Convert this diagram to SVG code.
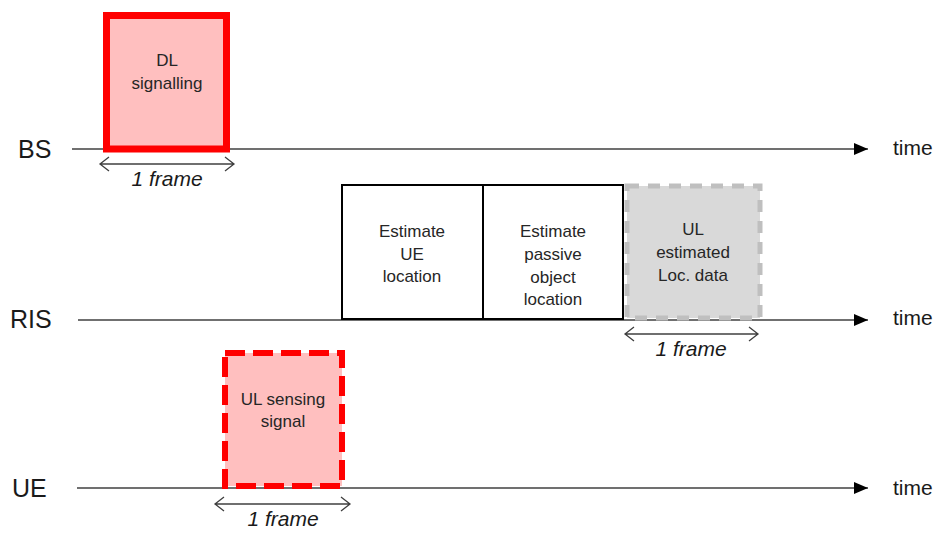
<svg xmlns="http://www.w3.org/2000/svg" width="949" height="534" viewBox="0 0 949 534">
<style>
.lbl{font-family:"Liberation Sans",Arial,sans-serif;font-size:25px;fill:#1a1a1a}
.time{font-family:"Liberation Sans",Arial,sans-serif;font-size:21px;fill:#1a1a1a}
.bx{font-family:"Liberation Sans",Arial,sans-serif;font-size:17px;fill:#262626;text-anchor:middle}
.fr{font-family:"Liberation Sans",Arial,sans-serif;font-size:21px;font-style:italic;fill:#1a1a1a;text-anchor:middle}
.tl{stroke:#404040;stroke-width:1.5;fill:none}
.dim{stroke:#404040;stroke-width:1.3;fill:none}
</style>
<defs>
<marker id="ah" viewBox="0 0 14 12" refX="14" refY="6" markerWidth="14" markerHeight="12" markerUnits="userSpaceOnUse" orient="auto">
<path d="M0,0 L14,6 L0,12 Z" fill="#000"/>
</marker>
</defs>
<rect width="949" height="534" fill="#fff"/>
<g id="connectors">
<line class="tl" x1="72" y1="149" x2="868" y2="149" marker-end="url(#ah)"/>
<line class="tl" x1="78" y1="320" x2="868" y2="320" marker-end="url(#ah)"/>
<line class="tl" x1="77" y1="488" x2="868" y2="488" marker-end="url(#ah)"/>
<path class="dim" d="M100,164 H234 M109,157 L100,164 L109,171 M225,157 L234,164 L225,171"/>
<path class="dim" d="M625,334 H758 M634,327 L625,334 L634,341 M749,327 L758,334 L749,341"/>
<path class="dim" d="M215,504 H350 M224,497 L215,504 L224,511 M341,497 L350,504 L341,511"/>
</g>
<g id="labels">
<text class="lbl" x="18" y="158">BS</text>
<text class="lbl" x="10" y="328">RIS</text>
<text class="lbl" x="12" y="497">UE</text>
<text class="time" x="893" y="155">time</text>
<text class="time" x="893" y="325">time</text>
<text class="time" x="893" y="495">time</text>
<text class="fr" x="167" y="186">1 frame</text>
<text class="fr" x="691" y="356">1 frame</text>
<text class="fr" x="283" y="526">1 frame</text>
</g>
<g id="dl-signalling">
<rect x="106.5" y="15.5" width="120" height="133.5" fill="#ffbfbf" stroke="#ff0000" stroke-width="7"/>
<text class="bx" x="167" y="66">DL</text>
<text class="bx" x="167" y="89">signalling</text>
</g>
<g id="est-ue">
<rect x="342" y="185" width="141" height="134" fill="#fff" stroke="#000" stroke-width="2"/>
<text class="bx" x="412" y="237">Estimate</text>
<text class="bx" x="412" y="260">UE</text>
<text class="bx" x="412" y="282">location</text>
</g>
<g id="est-passive">
<rect x="483" y="185" width="140" height="134" fill="#fff" stroke="#000" stroke-width="2"/>
<text class="bx" x="553" y="237">Estimate</text>
<text class="bx" x="553" y="260">passive</text>
<text class="bx" x="553" y="283">object</text>
<text class="bx" x="553" y="305">location</text>
</g>
<g id="ul-estimated">
<rect x="627" y="186" width="133" height="132" fill="#d9d9d9" stroke="#bfbfbf" stroke-width="5" stroke-dasharray="12 9"/>
<text class="bx" x="693" y="235">UL</text>
<text class="bx" x="693" y="258">estimated</text>
<text class="bx" x="693" y="281">Loc. data</text>
</g>
<g id="ul-sensing">
<rect x="225" y="353" width="117" height="133" fill="#ffbfbf" stroke="#ff0000" stroke-width="6" stroke-dasharray="20 8"/>
<text class="bx" x="283" y="405">UL sensing</text>
<text class="bx" x="283" y="427">signal</text>
</g>
</svg>
